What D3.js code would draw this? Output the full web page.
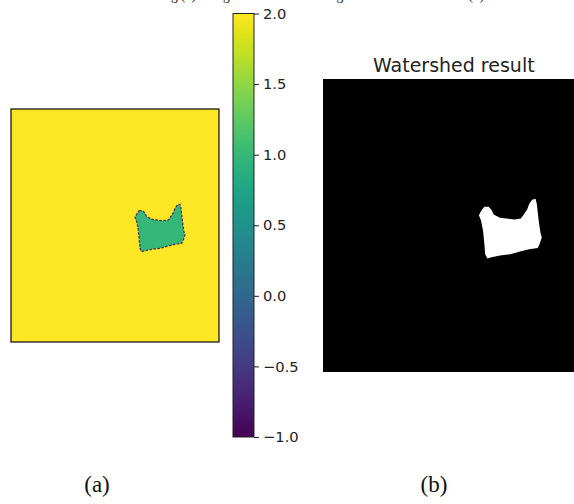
<!DOCTYPE html>
<html>
<head>
<meta charset="utf-8">
<script src="https://cdn.jsdelivr.net/npm/d3@7"></script>
<style>
  body { margin: 0; background: #fff; }
  svg { display: block; }
</style>
</head>
<body>
<svg id="fig" width="574" height="504"></svg>
<script>
// label image size (pixels)
let imgW = 250;
let imgH = 280;

// label values: background, watershed region, boundary
let bgValue = 2;
let regionValue = 1;
let lineValue = -1;

// outline of the segmented region, image pixel coords
let blobOutline = [
  [154.2, 122.2], [158.3, 122.2], [161.1, 125.3], [163.1, 129.4], [169.1, 132.5],
  [175.1, 133.4], [183.0, 134.2], [189.1, 133.4], [191.9, 129.4], [195.1, 124.6],
  [197.1, 119.3], [199.9, 115.4], [203.1, 114.5], [204.3, 119.3], [205.2, 127.4],
  [206.4, 137.4], [207.9, 147.4], [209.1, 151.4], [207.1, 157.4], [205.2, 161.4],
  [197.1, 162.6], [189.1, 164.6], [179.1, 167.4], [169.1, 168.6], [161.1, 170.3],
  [157.1, 171.5], [155.0, 167.4], [154.2, 157.4], [153.0, 145.4], [151.1, 135.4],
  [149.0, 130.1], [151.1, 126.2], [153.0, 123.4]
];

let cbarDomain = [-1, 2];
let cbarTicks = [-1, -0.5, 0, 0.5, 1, 1.5, 2];

let titleB = 'Watershed result';
let captions = ['(a)', '(b)'];
let topLineLeft = 'labeling (a)';
let topLineRight = 'Image after watershed segmentation of the result (b)';

let svg = d3.select('#fig');

let color = d3.scaleSequential(d3.interpolateViridis).domain(cbarDomain);

// ---- top line of previous caption (cut off by the page edge)
svg.append('text')
  .attr('x', 196).attr('y', 0)
  .attr('text-anchor', 'end')
  .style('font-family', '"Liberation Serif", serif')
  .style('font-size', '13.5px')
  .style('fill', '#111')
  .text(topLineLeft);

svg.append('text')
  .attr('x', 202).attr('y', 0)
  .style('font-family', '"Liberation Serif", serif')
  .style('font-size', '13.5px')
  .style('fill', '#111')
  .text(topLineRight);

// ---- panel (a): label image
let xA = d3.scaleLinear().domain([0, imgW]).range([11, 219]);
let yA = d3.scaleLinear().domain([0, imgH]).range([109, 342]);

let gA = svg.append('g').attr('class', 'panelA');

gA.append('rect')
  .attr('x', xA(0)).attr('y', yA(0))
  .attr('width', xA(imgW) - xA(0))
  .attr('height', yA(imgH) - yA(0))
  .style('fill', color(bgValue));

let lineA = d3.line()
  .x(d => xA(d[0]))
  .y(d => yA(d[1]))
  .curve(d3.curveLinearClosed);

gA.append('path')
  .datum(blobOutline)
  .attr('d', lineA)
  .style('fill', color(regionValue))
  .style('stroke', color(lineValue))
  .style('stroke-opacity', 0.8)
  .style('stroke-width', '1.3px')
  .style('stroke-dasharray', '2.5,1.5');

gA.append('rect')
  .attr('x', xA(0)).attr('y', yA(0))
  .attr('width', xA(imgW) - xA(0))
  .attr('height', yA(imgH) - yA(0))
  .style('fill', 'none')
  .style('stroke', '#1a1a1a')
  .style('stroke-width', '1.3px');

// ---- colorbar
let cbX0 = 233, cbX1 = 254;
let yC = d3.scaleLinear().domain(cbarDomain).range([437, 13.5]);

let grad = svg.append('defs').append('linearGradient')
  .attr('id', 'viridisGrad')
  .attr('x1', 0).attr('y1', 1).attr('x2', 0).attr('y2', 0);

grad.selectAll('stop')
  .data(d3.range(0, 1.0001, 0.05))
  .enter()
  .append('stop')
  .attr('offset', d => d)
  .attr('stop-color', d => d3.interpolateViridis(d));

svg.append('rect')
  .attr('x', cbX0).attr('y', yC(cbarDomain[1]))
  .attr('width', cbX1 - cbX0)
  .attr('height', yC(cbarDomain[0]) - yC(cbarDomain[1]))
  .style('fill', 'url(#viridisGrad)')
  .style('stroke', '#222')
  .style('stroke-width', '1px');

let cbAxis = d3.axisRight(yC)
  .tickValues(cbarTicks)
  .tickSize(5)
  .tickPadding(4)
  .tickFormat(d => d3.format('.1f')(d).replace('-', '\u2212'));

let cbG = svg.append('g')
  .attr('transform', `translate(${cbX1},0)`)
  .call(cbAxis);

cbG.select('.domain').remove();
cbG.selectAll('line').style('stroke', '#222');
cbG.selectAll('text')
  .style('font-family', '"DejaVu Sans", sans-serif')
  .style('font-size', '14.7px')
  .style('fill', '#222');

// ---- panel (b): watershed result
let xB = d3.scaleLinear().domain([0, imgW]).range([323, 323 + 261.6]);
let yB = d3.scaleLinear().domain([0, imgH]).range([79, 372]);

let gB = svg.append('g').attr('class', 'panelB');

gB.append('rect')
  .attr('x', xB(0)).attr('y', yB(0))
  .attr('width', xB(imgW) - xB(0))
  .attr('height', yB(imgH) - yB(0))
  .style('fill', '#000');

let lineB = d3.line()
  .x(d => xB(d[0]))
  .y(d => yB(d[1]))
  .curve(d3.curveLinearClosed);

gB.append('path')
  .datum(blobOutline)
  .attr('d', lineB)
  .style('fill', '#fff');

gB.append('text')
  .attr('x', (xB(0) + xB(imgW)) / 2)
  .attr('y', 72)
  .attr('text-anchor', 'middle')
  .style('font-family', '"DejaVu Sans", sans-serif')
  .style('font-size', '19px')
  .style('fill', '#222')
  .text(titleB);

// ---- sub-figure captions
let capX = [97, 434];
svg.selectAll('text.caption')
  .data(captions)
  .enter()
  .append('text')
  .attr('class', 'caption')
  .attr('x', (d, i) => capX[i])
  .attr('y', 492)
  .attr('text-anchor', 'middle')
  .style('font-family', '"Liberation Serif", serif')
  .style('font-size', '23px')
  .style('fill', '#111')
  .text(d => d);
</script>
</body>
</html>
